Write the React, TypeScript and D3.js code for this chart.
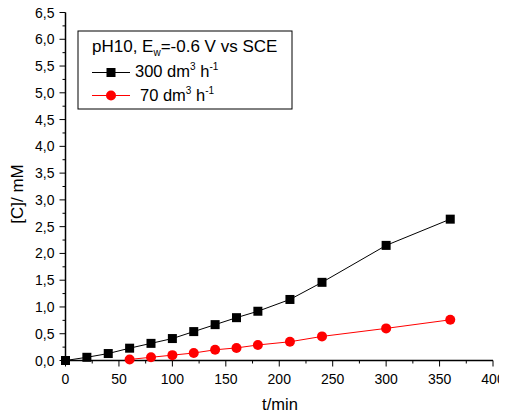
import React from "react";
import * as d3 from "d3";

const timeBlack = [0, 20, 40, 60, 80, 100, 120, 140, 160, 180, 210, 240, 300, 360];
const concBlack = [0, 0.06, 0.13, 0.23, 0.32, 0.41, 0.54, 0.67, 0.8, 0.92, 1.14, 1.46, 2.15, 2.64];
const timeRed = [60, 80, 100, 120, 140, 160, 180, 210, 240, 300, 360];
const concRed = [0.02, 0.06, 0.1, 0.14, 0.2, 0.235, 0.29, 0.35, 0.45, 0.6, 0.76];
const xTicks = [0, 50, 100, 150, 200, 250, 300, 350, 400];
const yTicks = [0, 0.5, 1, 1.5, 2, 2.5, 3, 3.5, 4, 4.5, 5, 5.5, 6, 6.5];

const W = 507, H = 418;
const left = 65.5, right = 493, top = 12.5, bottom = 360.5;
const FONT = "Liberation Sans, Arial, sans-serif";

export default function App() {
  const x = d3.scaleLinear().domain([0, 400]).range([left, right]);
  const y = d3.scaleLinear().domain([0, 6.5]).range([bottom, top]);
  const line = d3.line<[number, number]>().x(d => x(d[0])).y(d => y(d[1]));
  const black: [number, number][] = timeBlack.map((t, i) => [t, concBlack[i]]);
  const red: [number, number][] = timeRed.map((t, i) => [t, concRed[i]]);
  const fmt = (v: number) => v.toFixed(1).replace(".", ",");
  const xMinor = d3.range(25, 400, 50);
  const yMinor = d3.range(0.25, 6.5, 0.5);

  return (
    <div style={{ margin: -8 }}>
      <svg width={W} height={H} style={{ display: "block", background: "#fff" }} fontFamily={FONT}>
        {/* axes */}
        <line x1={left} x2={left} y1={top} y2={bottom} stroke="#000" strokeWidth={1.5} />
        <line x1={left} x2={right} y1={bottom} y2={bottom} stroke="#000" strokeWidth={1.5} />
        {yTicks.map(v => (
          <g key={"yt" + v}>
            <line x1={left - 6} x2={left} y1={y(v)} y2={y(v)} stroke="#000" strokeWidth={1} />
            <text x={left - 11} y={y(v)} dy="0.36em" textAnchor="end" fontSize={14}>{fmt(v)}</text>
          </g>
        ))}
        {yMinor.map(v => (
          <line key={"ym" + v} x1={left - 3} x2={left} y1={y(v)} y2={y(v)} stroke="#000" strokeWidth={1} />
        ))}
        {xTicks.map(v => (
          <g key={"xt" + v}>
            <line x1={x(v)} x2={x(v)} y1={bottom} y2={bottom + 6} stroke="#000" strokeWidth={1} />
            <text x={x(v)} y={384} textAnchor="middle" fontSize={14}>{v}</text>
          </g>
        ))}
        {xMinor.map(v => (
          <line key={"xm" + v} x1={x(v)} x2={x(v)} y1={bottom} y2={bottom + 3} stroke="#000" strokeWidth={1} />
        ))}
        <text x={280} y={410} textAnchor="middle" fontSize={16.5}>t/min</text>
        <text transform={`translate(23,194) rotate(-90)`} textAnchor="middle" fontSize={17}>[C]/ mM</text>

        {/* series */}
        <path d={line(black) || ""} fill="none" stroke="#000" strokeWidth={1} />
        <path d={line(red) || ""} fill="none" stroke="#ff0000" strokeWidth={1} />
        {black.map((d, i) => (
          <rect key={"b" + i} x={x(d[0]) - 4.5} y={y(d[1]) - 4.5} width={9} height={9} fill="#000" />
        ))}
        {red.map((d, i) => (
          <circle key={"r" + i} cx={x(d[0])} cy={y(d[1])} r={5} fill="#ff0000" />
        ))}

        {/* legend */}
        <rect x={78} y={31} width={214} height={78} fill="#fff" stroke="#000" strokeWidth={1} />
        <text x={92} y={52} fontSize={17}>
          pH10, E<tspan fontSize={10} dy={4}>w</tspan><tspan dy={-4}>=-0.6 V vs SCE</tspan>
        </text>
        <line x1={92} x2={130} y1={72.5} y2={72.5} stroke="#000" strokeWidth={1} />
        <rect x={106.5} y={68} width={9} height={9} fill="#000" />
        <text x={135} y={77} fontSize={16.5}>
          300 dm<tspan fontSize={10} dy={-7}>3</tspan><tspan dy={7}> h</tspan><tspan fontSize={10} dy={-7}>-1</tspan>
        </text>
        <line x1={92} x2={130} y1={95.5} y2={95.5} stroke="#ff0000" strokeWidth={1} />
        <circle cx={111} cy={95.5} r={5} fill="#ff0000" />
        <text x={140} y={101} fontSize={16.5}>
          70 dm<tspan fontSize={10} dy={-7}>3</tspan><tspan dy={7}> h</tspan><tspan fontSize={10} dy={-7}>-1</tspan>
        </text>
      </svg>
    </div>
  );
}
